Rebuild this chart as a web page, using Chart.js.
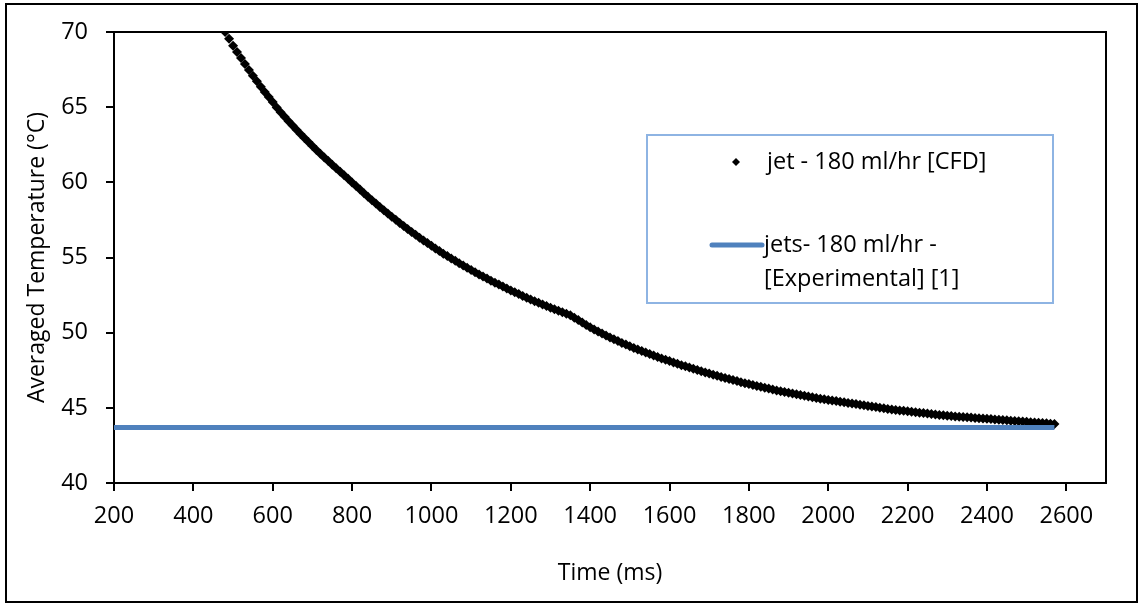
<!DOCTYPE html>
<html>
<head>
<meta charset="utf-8">
<script src="https://cdn.jsdelivr.net/npm/chart.js@4.4.1/dist/chart.umd.min.js"></script>
<style>
html,body{margin:0;padding:0;background:#fff;}
#wrap{width:1143px;height:606px;position:relative;}
</style>
</head>
<body>
<div id="wrap"><canvas id="c" width="1143" height="606"></canvas></div>
<script>
// ---- data ----
const cfdTime = [480,490,500,510,520,530,540,550,560,570,580,590,600,
610,620,630,640,650,660,670,680,690,700,710,720,730,740,750,760,770,780,790,800,
810,820,830,840,850,860,870,880,890,900,910,920,930,940,950,960,970,980,990,1000,
1010,1020,1030,1040,1050,1060,1070,1080,1090,1100,1110,1120,1130,1140,1150,1160,1170,1180,1190,1200,
1210,1220,1230,1240,1250,1260,1270,1280,1290,1300,1310,1320,1330,1340,1350,
1360,1370,1380,1390,1400,1410,1420,1430,1440,1450,1460,1470,1480,1490,1500,
1510,1520,1530,1540,1550,1560,1570,1580,1590,1600,1610,1620,1630,1640,1650,1660,1670,1680,1690,1700,
1710,1720,1730,1740,1750,1760,1770,1780,1790,1800,1810,1820,1830,1840,1850,1860,1870,1880,1890,1900,
1910,1920,1930,1940,1950,1960,1970,1980,1990,2000,
2010,2020,2030,2040,2050,2060,2070,2080,2090,2100,2110,2120,2130,2140,2150,2160,2170,2180,2190,2200,
2210,2220,2230,2240,2250,2260,2270,2280,2290,2300,2310,2320,2330,2340,2350,2360,2370,2380,2390,2400,
2410,2420,2430,2440,2450,2460,2470,2480,2490,2500,2510,2520,2530,2540,2550,2560,2570];
const cfdTemp = [70.0,69.55,69.1,68.68,68.27,67.87,67.48,67.1,66.73,66.37,66.02,65.68,65.35,
64.98,64.67,64.37,64.07,63.78,63.5,63.22,62.95,62.68,62.42,62.16,61.91,61.66,61.42,61.18,60.94,60.71,60.48,60.25,60.0,
59.76,59.52,59.28,59.05,58.82,58.59,58.37,58.15,57.93,57.72,57.51,57.3,57.1,56.9,56.7,56.51,56.32,56.14,55.96,55.78,
55.6,55.43,55.26,55.1,54.94,54.78,54.62,54.47,54.32,54.17,54.02,53.88,53.74,53.6,53.46,53.33,53.2,53.07,52.94,52.81,
52.69,52.57,52.45,52.33,52.21,52.1,51.99,51.88,51.77,51.66,51.56,51.46,51.36,51.26,51.16,
51.0,50.84,50.68,50.52,50.37,50.22,50.08,49.94,49.81,49.68,49.56,49.44,49.32,49.21,49.1,
48.99,48.88,48.78,48.68,48.58,48.48,48.38,48.29,48.2,48.11,48.02,47.93,47.84,47.76,47.68,47.6,47.52,47.44,47.36,47.28,
47.2,47.13,47.06,46.99,46.92,46.85,46.78,46.71,46.64,46.58,46.52,46.46,46.4,46.34,46.28,46.22,46.16,46.1,46.05,46.0,
45.95,45.9,45.85,45.8,45.75,45.7,45.65,45.61,45.57,45.53,
45.49,45.45,45.41,45.37,45.33,45.29,45.25,45.21,45.17,45.13,45.09,45.05,45.01,44.97,44.93,44.89,44.86,44.83,44.8,44.77,
44.74,44.71,44.68,44.65,44.62,44.59,44.56,44.53,44.5,44.47,44.45,44.43,44.41,44.39,44.37,44.35,44.33,44.31,44.29,44.27,
44.25,44.23,44.21,44.19,44.17,44.15,44.13,44.11,44.09,44.07,44.05,44.03,44.01,43.99,43.97,43.95,43.93];
const expTime = [200, 2570];
const expTemp = [43.7, 43.7];
const xTickLabels = [200,400,600,800,1000,1200,1400,1600,1800,2000,2200,2400,2600];
const yTickLabels = [40,45,50,55,60,65,70];
const seriesLabels = ['jet - 180 ml/hr [CFD]', 'jets- 180 ml/hr - [Experimental] [1]'];
const xTitle = 'Time (ms)';
const yTitle = 'Averaged Temperature (°C)';

const FONT = '"Open Sans", Lato, sans-serif';

const framePlugin = {
  id: 'frame',
  beforeDraw(chart) {
    const ctx = chart.ctx;
    ctx.save();
    ctx.fillStyle = '#fff';
    ctx.fillRect(0, 0, chart.width, chart.height);
    ctx.restore();
  },
  afterDraw(chart) {
    const ctx = chart.ctx;
    const a = chart.chartArea;
    ctx.save();
    // outer frame
    ctx.strokeStyle = '#000';
    ctx.lineWidth = 2;
    ctx.strokeRect(6, 4, 1131, 598);
    // plot area box (top & right)
    ctx.lineWidth = 2;
    ctx.beginPath();
    ctx.moveTo(a.left, a.top);
    ctx.lineTo(a.right, a.top);
    ctx.lineTo(a.right, a.bottom);
    ctx.stroke();
    // legend box
    const lx = 647, ly = 135, lw = 406, lh = 168;
    ctx.strokeStyle = '#8EB4E3';
    ctx.lineWidth = 2;
    ctx.strokeRect(lx, ly, lw, lh);
    ctx.font = '23.5px ' + FONT;
    ctx.fillStyle = '#000';
    ctx.textBaseline = 'middle';
    ctx.textAlign = 'left';
    const ds = chart.data.datasets;
    // item 1: diamond marker
    const d0 = ds.find(d => d.label === seriesLabels[0]);
    ctx.beginPath();
    const mx = 736, my = 162, r = 4;
    ctx.moveTo(mx, my - r); ctx.lineTo(mx + r, my); ctx.lineTo(mx, my + r); ctx.lineTo(mx - r, my); ctx.closePath();
    ctx.fillStyle = d0.backgroundColor;
    ctx.fill();
    ctx.fillStyle = '#000';
    ctx.fillText(d0.label, 767, my);
    // item 2: line sample
    const d1 = ds.find(d => d.label === seriesLabels[1]);
    ctx.strokeStyle = d1.borderColor;
    ctx.lineWidth = 5;
    ctx.lineCap = 'round';
    ctx.beginPath();
    ctx.moveTo(712, 245); ctx.lineTo(762, 245); ctx.stroke();
    // wrap text
    const words = d1.label.split(' ');
    const lines = [];
    let cur = '';
    for (const w of words) {
      const t = cur ? cur + ' ' + w : w;
      if (ctx.measureText(t).width > 275 && cur) { lines.push(cur); cur = w; } else cur = t;
    }
    if (cur) lines.push(cur);
    lines.forEach((l, i) => ctx.fillText(l, 764, 245 + i * 34));
    ctx.restore();
  }
};

new Chart(document.getElementById('c'), {
  type: 'scatter',
  data: {
    datasets: [
      {
        label: seriesLabels[0],
        data: cfdTime.map((t, i) => ({x: t, y: cfdTemp[i]})),
        showLine: false,
        pointStyle: 'rectRot',
        pointRadius: 5,
        pointBorderWidth: 0,
        backgroundColor: '#000',
        borderColor: '#000',
        order: 1
      },
      {
        label: seriesLabels[1],
        data: expTime.map((t, i) => ({x: t, y: expTemp[i]})),
        showLine: true,
        pointRadius: 0,
        borderColor: '#4F81BD',
        backgroundColor: '#4F81BD',
        borderWidth: 5,
        order: 0
      }
    ]
  },
  plugins: [framePlugin],
  options: {
    responsive: false,
    animation: false,
    events: [],
    layout: { padding: { left: 0, top: 25, right: 37, bottom: 0 } },
    plugins: { legend: { display: false }, tooltip: { enabled: false } },
    scales: {
      x: {
        type: 'linear',
        min: 200, max: 2700,
        afterBuildTicks(s) { s.ticks = xTickLabels.map(v => ({value: v})); },
        afterFit(s) { s.height = 123; },
        ticks: { color: '#000', font: { family: FONT, size: 23.5 }, padding: 11, maxRotation: 0, autoSkip: false,
                 callback: v => String(v) },
        grid: { drawOnChartArea: false, drawTicks: true, tickLength: 8, color: '#000', lineWidth: 2 },
        border: { display: true, color: '#000', width: 2 },
        title: { display: true, text: xTitle, color: '#000', font: { family: FONT, size: 23 }, padding: { top: 0, bottom: 19 } }
      },
      y: {
        type: 'linear',
        min: 40, max: 70,
        afterBuildTicks(s) { s.ticks = yTickLabels.map(v => ({value: v})); },
        afterFit(s) { s.width = 114; },
        ticks: { color: '#000', font: { family: FONT, size: 23.5 }, padding: 18, autoSkip: false,
                 callback: v => String(v) },
        grid: { drawOnChartArea: false, drawTicks: true, tickLength: 8, color: '#000', lineWidth: 2 },
        border: { display: true, color: '#000', width: 2 },
        title: { display: true, text: yTitle, color: '#000', font: { family: FONT, size: 23 }, padding: { top: 24, bottom: 0 } }
      }
    }
  }
});
</script>
</body>
</html>
